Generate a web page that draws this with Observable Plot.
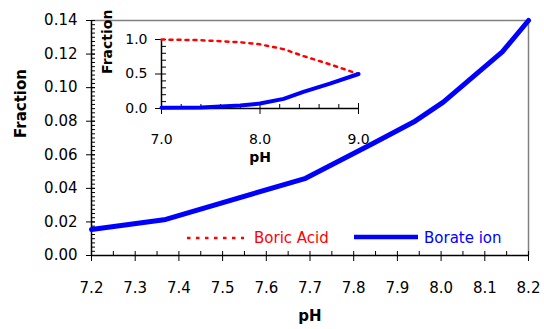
<!DOCTYPE html>
<html><head><meta charset="utf-8">
<script src="https://cdn.jsdelivr.net/npm/d3@7"></script>
<script src="https://cdn.jsdelivr.net/npm/@observablehq/plot@0.6"></script>
<style>
body{margin:0;background:#fff;}
#wrap{position:relative;width:544px;height:329px;font-family:"DejaVu Sans",sans-serif;overflow:hidden;}
#wrap > svg{position:absolute;left:0;top:0;background:transparent;overflow:visible;}
.leg{position:absolute;font-size:15px;line-height:18px;white-space:nowrap;}
</style></head><body><div id="wrap"></div>
<script>
// Main chart (borate ion fraction vs pH)
const mainPH      = [7.2, 7.37, 7.69, 7.845, 7.937, 8.005, 8.14, 8.2];
const mainBorate  = [0.0155, 0.0215, 0.046, 0.0669, 0.0795, 0.0914, 0.1213, 0.14];
const mainXTicks  = [7.2, 7.3, 7.4, 7.5, 7.6, 7.7, 7.8, 7.9, 8.0, 8.1, 8.2];
const mainXMinor  = [7.25, 7.35, 7.45, 7.55, 7.65, 7.75, 7.85, 7.95, 8.05, 8.15];
const mainYTicks  = [0, 0.02, 0.04, 0.06, 0.08, 0.10, 0.12, 0.14];
const mainYMinor  = d3.range(0, 0.1401, 0.0025);

// Inset chart (full range)
const insetPH     = [7.0, 7.4, 7.8, 8.0, 8.24, 8.44, 8.71, 9.0];
const insetBoric  = [1.0, 0.99, 0.96, 0.93, 0.86, 0.76, 0.64, 0.5];
const insetBorate = [0.01, 0.015, 0.043, 0.072, 0.14, 0.24, 0.36, 0.5];
const insetXTicks = [7.0, 8.0, 9.0];
const insetXMinor = [7.2, 7.4, 7.6, 7.8, 8.2, 8.4, 8.6, 8.8];
const insetYTicks = [0, 0.5, 1.0];
const insetYMinor = [0.1, 0.2, 0.3, 0.4, 0.6, 0.7, 0.8, 0.9];

const legendLabels = ["Boric Acid", "Borate ion"];
const RED = "#ff0000", BLUE = "#0000ff";

const mainData = mainPH.map((p, i) => ({pH: p, frac: mainBorate[i]}));
const boricData = insetPH.map((p, i) => ({pH: p, frac: insetBoric[i]}));
const borateData = insetPH.map((p, i) => ({pH: p, frac: insetBorate[i]}));

const wrap = document.getElementById("wrap");

const main = Plot.plot({
  width: 544, height: 329,
  marginLeft: 91, marginRight: 16, marginTop: 20, marginBottom: 74,
  style: {fontFamily: "DejaVu Sans, sans-serif", fontSize: "15px", color: "#000", background: "transparent"},
  x: {domain: [7.2, 8.2]},
  y: {domain: [0, 0.14]},
  marks: [
    Plot.ruleY([0.14], {stroke: "#808080", strokeWidth: 1.5}),
    Plot.ruleX([8.2], {stroke: "#808080", strokeWidth: 1.5}),
    Plot.ruleY(mainYMinor, {y: d => d, x1: () => 7.2, x2: () => 7.2, insetRight: -4, stroke: "#000", strokeWidth: 1}),
    Plot.ruleY(mainYTicks, {y: d => d, x1: () => 7.2, x2: () => 7.2, insetLeft: -5, insetRight: -4, stroke: "#000", strokeWidth: 1}),
    Plot.ruleX(mainXMinor, {x: d => d, y1: () => 0, y2: () => 0, insetTop: -4, stroke: "#000", strokeWidth: 1}),
    Plot.ruleX(mainXTicks, {x: d => d, y1: () => 0, y2: () => 0, insetTop: -4, insetBottom: -6, stroke: "#000", strokeWidth: 1}),
    Plot.ruleY([0], {stroke: "#000", strokeWidth: 1.5}),
    Plot.ruleX([7.2], {stroke: "#000", strokeWidth: 1.5}),
    Plot.axisX({ticks: mainXTicks, tickSize: 0, tickPadding: 27, tickFormat: d => d.toFixed(1), label: null}),
    Plot.axisY({ticks: mainYTicks, tickSize: 0, tickPadding: 14, tickFormat: d => d.toFixed(2), label: null}),
    Plot.line(mainData, {x: "pH", y: "frac", stroke: BLUE, strokeWidth: 5}),
    Plot.text(["Fraction"], {frameAnchor: "left", dx: -70, rotate: -90, fontWeight: "bold", fontSize: 15}),
    Plot.text(["pH"], {frameAnchor: "bottom", dy: 65, fontWeight: "bold", fontSize: 15})
  ]
});
wrap.appendChild(main);

const inset = Plot.plot({
  width: 280, height: 162,
  marginLeft: 66, marginRight: 17, marginTop: 29, marginBottom: 64,
  style: {fontFamily: "DejaVu Sans, sans-serif", fontSize: "14px", color: "#000", background: "transparent", overflow: "visible"},
  x: {domain: [7, 9]},
  y: {domain: [0, 1]},
  marks: [
    Plot.ruleY(insetYMinor, {y: d => d, x1: () => 7, x2: () => 7, insetRight: -5, stroke: "#000", strokeWidth: 1}),
    Plot.ruleY(insetYTicks, {y: d => d, x1: () => 7, x2: () => 7, insetLeft: -6, insetRight: -5, stroke: "#000", strokeWidth: 1}),
    Plot.ruleX(insetXMinor, {x: d => d, y1: () => 0, y2: () => 0, insetTop: -4, stroke: "#000", strokeWidth: 1}),
    Plot.ruleX(insetXTicks, {x: d => d, y1: () => 0, y2: () => 0, insetTop: -5, insetBottom: -6, stroke: "#000", strokeWidth: 1}),
    Plot.ruleY([0], {stroke: "#000", strokeWidth: 1.5}),
    Plot.ruleX([7], {y1: () => 0, y2: () => 1, stroke: "#000", strokeWidth: 1.5}),
    Plot.axisX({ticks: insetXTicks, tickSize: 0, tickPadding: 26, tickFormat: d => d.toFixed(1), label: null}),
    Plot.axisY({ticks: insetYTicks, tickSize: 0, tickPadding: 14, tickFormat: d => d.toFixed(1), label: null}),
    Plot.line(boricData, {x: "pH", y: "frac", stroke: RED, strokeWidth: 2.5, strokeDasharray: "3,5"}),
    Plot.line(borateData, {x: "pH", y: "frac", stroke: BLUE, strokeWidth: 4}),
    Plot.text(["Fraction"], {frameAnchor: "left", dx: -54, rotate: -90, fontWeight: "bold", fontSize: 14}),
    Plot.text(["pH"], {frameAnchor: "bottom", dy: 53, fontWeight: "bold", fontSize: 14})
  ]
});
inset.style.left = "95px";
inset.style.top = "10px";
wrap.appendChild(inset);

// Legend
function sample(left, top, w, color, sw, dash) {
  const s = d3.create("svg").attr("width", w).attr("height", 8)
    .style("position", "absolute").style("left", left + "px").style("top", top + "px");
  s.append("line").attr("x1", 0).attr("x2", w).attr("y1", 4).attr("y2", 4)
    .attr("stroke", color).attr("stroke-width", sw).attr("stroke-dasharray", dash || null);
  wrap.appendChild(s.node());
}
function label(left, top, text, color) {
  const d = document.createElement("div");
  d.className = "leg"; d.style.left = left + "px"; d.style.top = top + "px"; d.style.color = color;
  d.textContent = text; wrap.appendChild(d);
}
sample(187, 234, 57, RED, 2.5, "3.5,5.5");
label(254, 229, legendLabels[0], RED);
sample(354, 233, 64, BLUE, 4.5);
label(424, 229, legendLabels[1], BLUE);
</script></body></html>
